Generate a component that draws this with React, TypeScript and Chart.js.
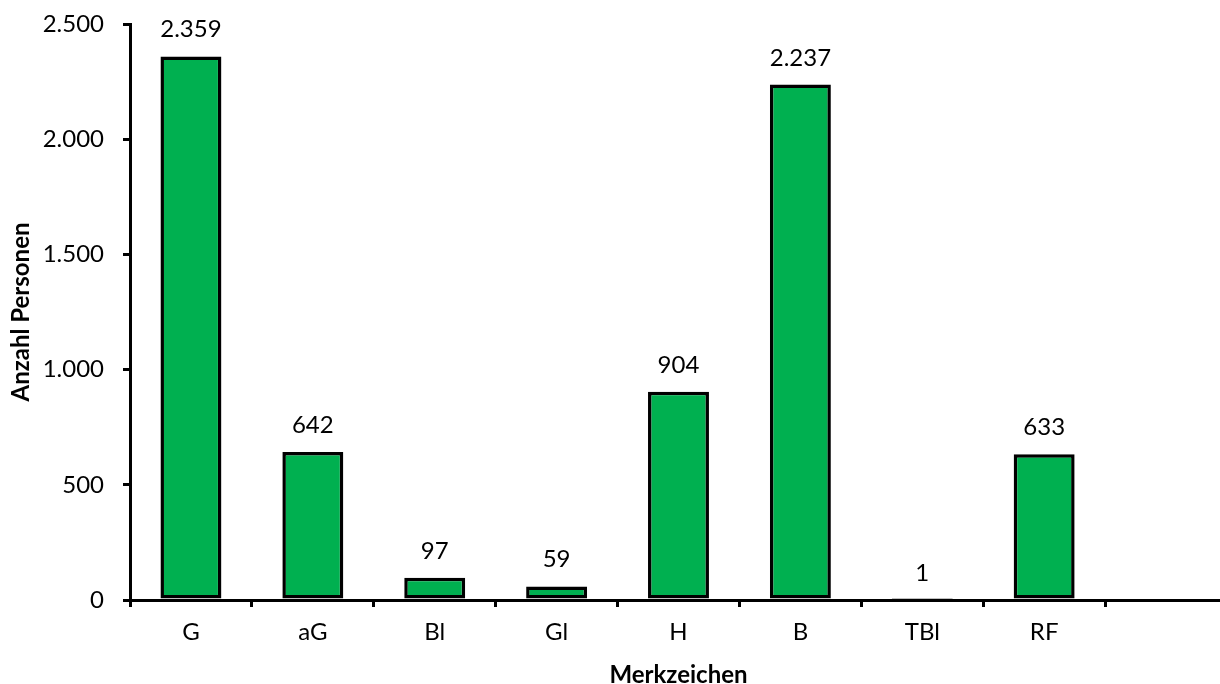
import React, { useEffect, useRef } from "react";
import { Chart, registerables } from "chart.js";

Chart.register(...registerables);

const categories = ["G", "aG", "Bl", "Gl", "H", "B", "TBl", "RF", ""];
const values: (number | null)[] = [2359, 642, 97, 59, 904, 2237, 1, 633, null];
const yTicks = [0, 500, 1000, 1500, 2000, 2500];

const FONT = "Lato, 'Open Sans', sans-serif";

const fmt = (n: number) =>
  String(Math.round(n)).replace(/\B(?=(\d{3})+(?!\d))/g, ".");

const labelPlugin = {
  id: "barLabels",
  afterDatasetsDraw(chart: any) {
    const ctx = chart.ctx;
    const meta = chart.getDatasetMeta(0);
    ctx.save();
    ctx.fillStyle = "#000";
    ctx.font = `24px ${FONT}`;
    ctx.textAlign = "center";
    ctx.textBaseline = "alphabetic";
    meta.data.forEach((el: any, i: number) => {
      const v = values[i];
      if (v === null || v === undefined) return;
      ctx.fillText(fmt(v), el.x, el.y - 19);
    });
    ctx.restore();
  },
};

export default function App() {
  const ref = useRef<HTMLCanvasElement | null>(null);
  useEffect(() => {
    if (!ref.current) return;
    const chart = new Chart(ref.current, {
      type: "bar",
      data: {
        labels: categories,
        datasets: [
          {
            data: values as any,
            backgroundColor: "#00B050",
            borderColor: "#000",
            borderWidth: 3.5,
            borderSkipped: false,
            categoryPercentage: 1,
            barPercentage: 0.5,
          },
        ],
      },
      options: {
        animation: false,
        responsive: true,
        maintainAspectRatio: false,
        layout: { padding: { top: 24, right: 13, left: 0, bottom: 0 } },
        plugins: { legend: { display: false }, tooltip: { enabled: false } },
        scales: {
          x: {
            offset: true,
            border: { color: "#000", width: 3 },
            grid: {
              offset: true,
              drawOnChartArea: false,
              drawTicks: true,
              tickLength: 7,
              color: "#000",
              lineWidth: 3,
            },
            ticks: {
              color: "#000",
              font: { family: FONT, size: 24 },
              padding: 11,
              maxRotation: 0,
              autoSkip: false,
            },
            title: {
              display: true,
              text: "Merkzeichen",
              color: "#000",
              font: { family: FONT, size: 24, weight: "bold", lineHeight: 0.75 },
              padding: 0,
            },
            afterFit(scale: any) {
              scale.height = 84;
              scale.paddingLeft = 0;
              scale.paddingRight = 0;
            },
          },
          y: {
            min: 0,
            max: 2500,
            border: { color: "#000", width: 3 },
            grid: {
              drawOnChartArea: false,
              drawTicks: true,
              tickLength: 7,
              color: "#000",
              lineWidth: 3,
            },
            afterBuildTicks(scale: any) {
              scale.ticks = yTicks.map((v) => ({ value: v }));
            },
            ticks: {
              color: "#000",
              font: { family: FONT, size: 24 },
              padding: 19,
              callback: (v: any) => fmt(Number(v)),
            },
            title: {
              display: true,
              text: "Anzahl Personen",
              color: "#000",
              font: { family: FONT, size: 24, weight: "bold", lineHeight: 1.2 },
              padding: { top: 7, bottom: 0 },
            },
            afterFit(scale: any) {
              scale.width = 130;
              scale.paddingTop = 0;
              scale.paddingBottom = 0;
            },
          },
        },
      },
      plugins: [labelPlugin],
    });
    return () => chart.destroy();
  }, []);

  return (
    <div
      style={{
        position: "absolute",
        left: 0,
        top: 0,
        width: 1220,
        height: 684,
        overflow: "hidden",
        background: "#fff",
      }}
    >
      <div style={{ position: "relative", width: 1240, height: 684 }}>
        <canvas ref={ref} />
      </div>
    </div>
  );
}
